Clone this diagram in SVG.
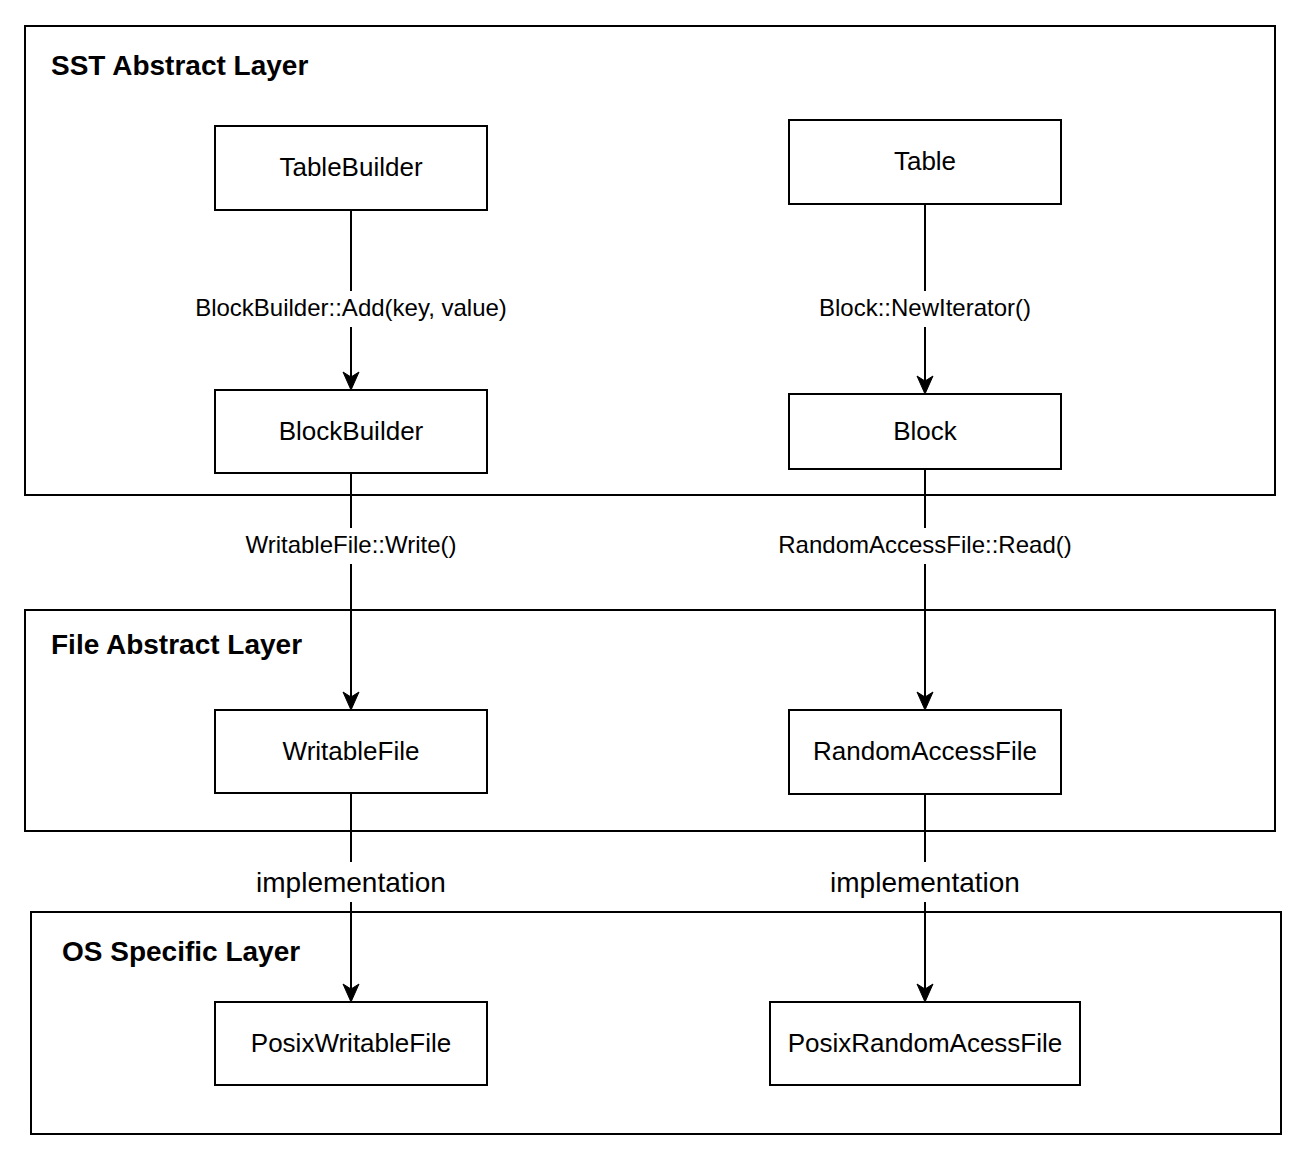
<svg xmlns="http://www.w3.org/2000/svg" width="1300" height="1156" viewBox="0 0 1300 1156">
<style>
.layer{fill:#fff;stroke:#000;stroke-width:2}
.node rect{fill:#fff;stroke:#000;stroke-width:2}
.node text{font-family:"Liberation Sans",Arial,sans-serif;font-size:26px;fill:#000;text-anchor:middle}
.title{font-family:"Liberation Sans",Arial,sans-serif;font-size:28px;font-weight:bold;fill:#000}
.edge{stroke:#000;stroke-width:2;fill:none}
.head{fill:#000;stroke:#000;stroke-width:1}
.lbl{font-family:"Liberation Sans",Arial,sans-serif;font-size:24px;fill:#000;text-anchor:middle}
.lblbig{font-family:"Liberation Sans",Arial,sans-serif;font-size:28px;fill:#000;text-anchor:middle}
.bg{fill:#fff}
</style>
<defs>
<path id="ah" d="M0,0 L-8,-18 L0,-13 L8,-18 Z"/>
</defs>
<rect width="1300" height="1156" fill="#fff"/>
<g id="layer-sst">
<rect class="layer" x="25" y="26" width="1250" height="469"/>
<text class="title" x="51" y="75">SST Abstract Layer</text>
</g>
<g id="layer-file">
<rect class="layer" x="25" y="610" width="1250" height="221"/>
<text class="title" x="51" y="654">File Abstract Layer</text>
</g>
<g id="layer-os">
<rect class="layer" x="31" y="912" width="1250" height="222"/>
<text class="title" x="62" y="961">OS Specific Layer</text>
</g>
<g id="connectors">
<line class="edge" x1="351" y1="210" x2="351" y2="378"/>
<use href="#ah" class="head" x="351" y="390"/>
<rect class="bg" x="186" y="291" width="330" height="36"/>
<text class="lbl" x="351" y="316">BlockBuilder::Add(key, value)</text>
<line class="edge" x1="351" y1="473" x2="351" y2="698"/>
<use href="#ah" class="head" x="351" y="710"/>
<rect class="bg" x="240" y="528" width="222" height="36"/>
<text class="lbl" x="351" y="553">WritableFile::Write()</text>
<line class="edge" x1="351" y1="793" x2="351" y2="990"/>
<use href="#ah" class="head" x="351" y="1002"/>
<rect class="bg" x="250" y="862" width="202" height="40"/>
<text class="lblbig" x="351" y="892">implementation</text>
<line class="edge" x1="925" y1="204" x2="925" y2="382"/>
<use href="#ah" class="head" x="925" y="394"/>
<rect class="bg" x="810" y="291" width="230" height="36"/>
<text class="lbl" x="925" y="316">Block::NewIterator()</text>
<line class="edge" x1="925" y1="469" x2="925" y2="698"/>
<use href="#ah" class="head" x="925" y="710"/>
<rect class="bg" x="770" y="528" width="310" height="36"/>
<text class="lbl" x="925" y="553">RandomAccessFile::Read()</text>
<line class="edge" x1="925" y1="794" x2="925" y2="990"/>
<use href="#ah" class="head" x="925" y="1002"/>
<rect class="bg" x="824" y="862" width="202" height="40"/>
<text class="lblbig" x="925" y="892">implementation</text>
</g>
<g id="node-tablebuilder" class="node">
<rect x="215" y="126" width="272" height="84"/>
<text x="351" y="176">TableBuilder</text>
</g>
<g id="node-table" class="node">
<rect x="789" y="120" width="272" height="84"/>
<text x="925" y="170">Table</text>
</g>
<g id="node-blockbuilder" class="node">
<rect x="215" y="390" width="272" height="83"/>
<text x="351" y="440">BlockBuilder</text>
</g>
<g id="node-block" class="node">
<rect x="789" y="394" width="272" height="75"/>
<text x="925" y="440">Block</text>
</g>
<g id="node-writablefile" class="node">
<rect x="215" y="710" width="272" height="83"/>
<text x="351" y="760">WritableFile</text>
</g>
<g id="node-randomaccessfile" class="node">
<rect x="789" y="710" width="272" height="84"/>
<text x="925" y="760">RandomAccessFile</text>
</g>
<g id="node-posixwritablefile" class="node">
<rect x="215" y="1002" width="272" height="83"/>
<text x="351" y="1052">PosixWritableFile</text>
</g>
<g id="node-posixrandomacessfile" class="node">
<rect x="770" y="1002" width="310" height="83"/>
<text x="925" y="1052">PosixRandomAcessFile</text>
</g>
</svg>
